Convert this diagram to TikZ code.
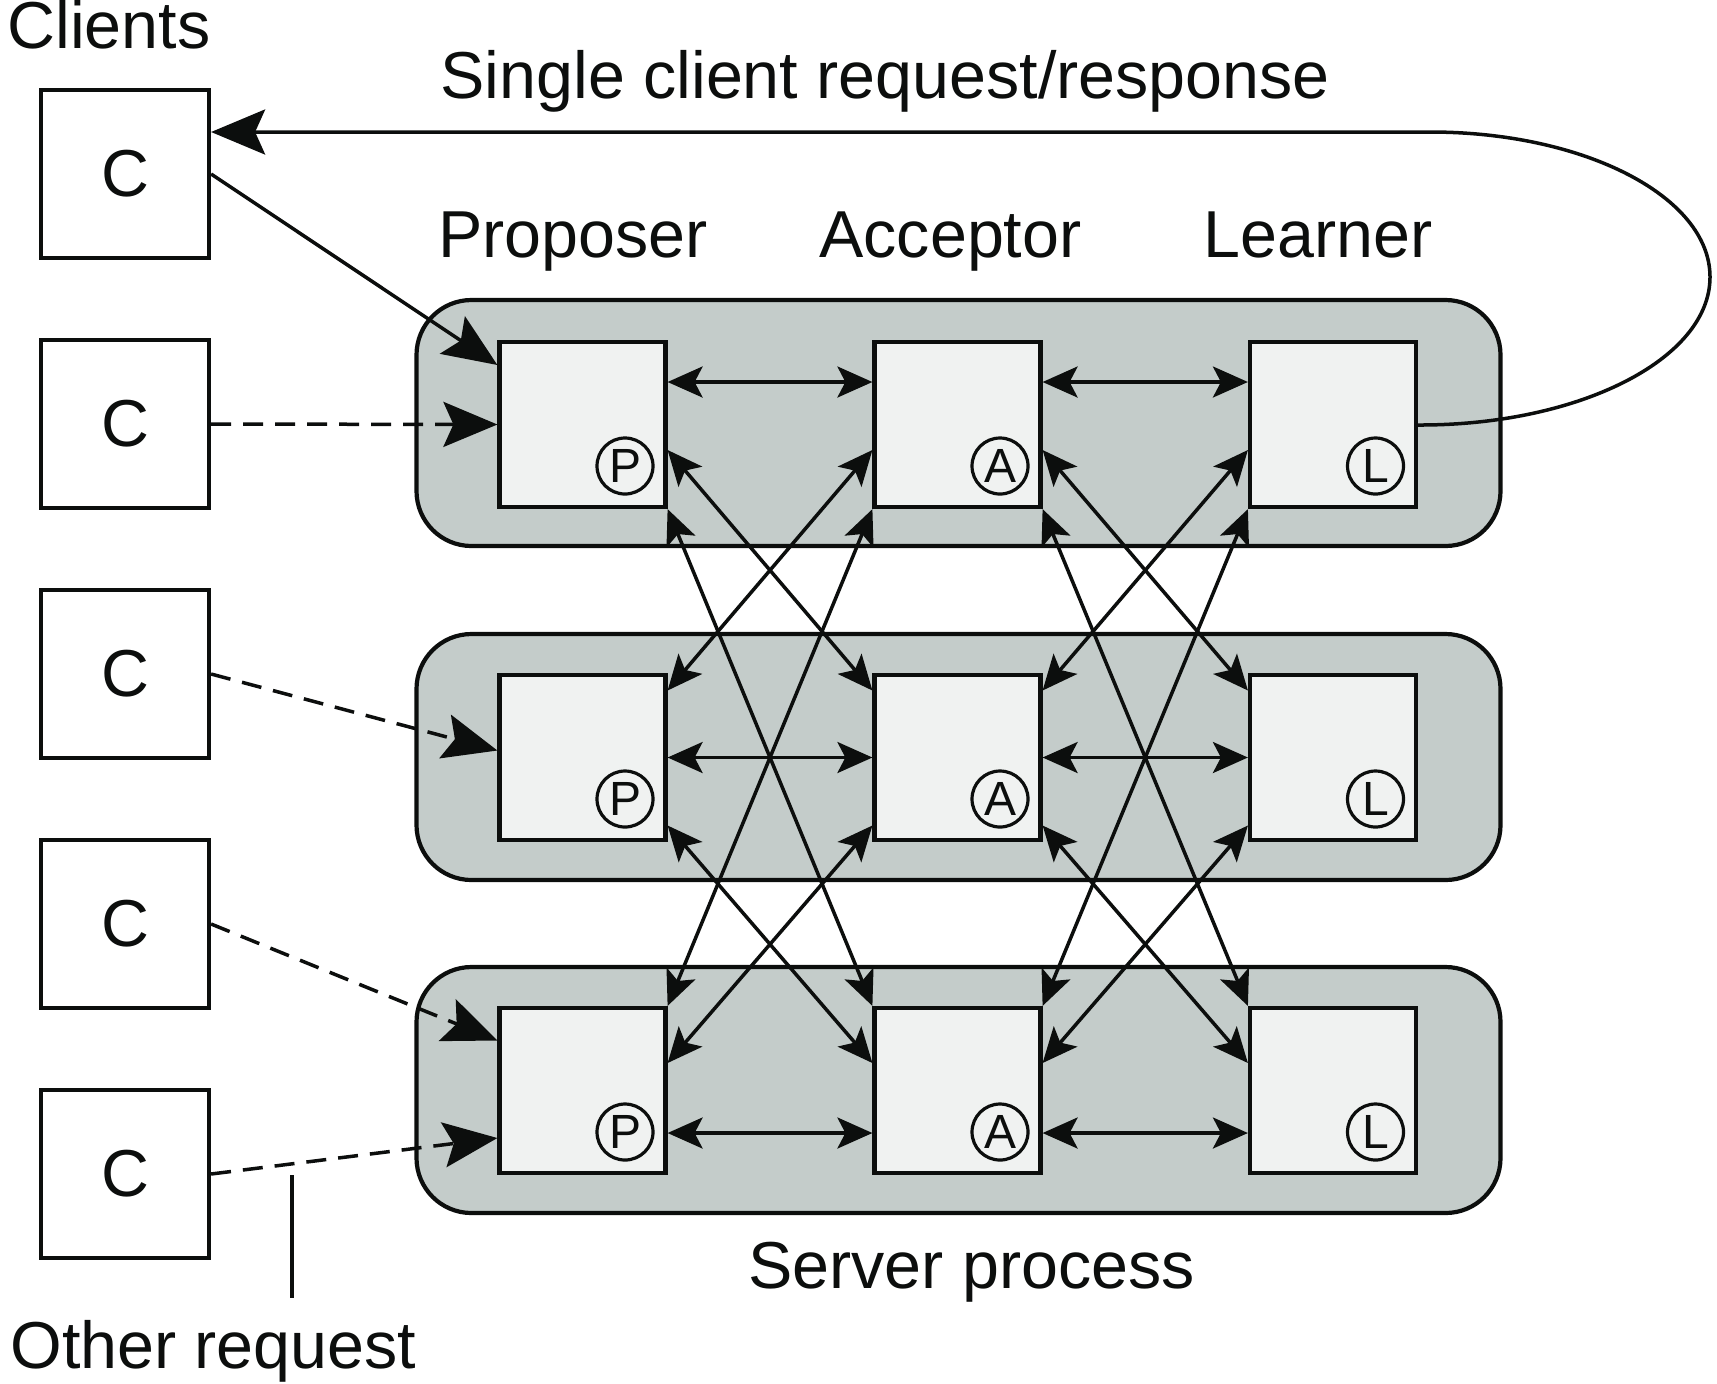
\documentclass[tikz,border=0pt]{standalone}
\usepackage{fontspec}
\setmainfont{Liberation Sans}
\usetikzlibrary{arrows.meta,calc}
\definecolor{srvfill}{RGB}{196,204,202}
\definecolor{boxfill}{RGB}{240,242,241}
\definecolor{ink}{RGB}{12,14,13}

\begin{document}
\begin{tikzpicture}[x=0.5pt,y=-0.5pt,
  bigfont/.style={font=\fontsize{33.2}{40}\selectfont},
  txt/.style={bigfont, anchor=base west, inner sep=0pt, text=ink},
  server/.style={draw=ink, fill=srvfill, line width=2.1pt, rounded corners=27.5pt,
    minimum width=542pt, minimum height=123pt, inner sep=0pt},
  role/.style={draw=ink, fill=boxfill, line width=2.1pt,
    minimum width=83pt, minimum height=82.5pt, inner sep=0pt},
  client/.style={draw=ink, fill=white, line width=2.1pt,
    minimum width=84pt, minimum height=84pt, inner sep=0pt, bigfont, text=ink},
  badge/.style={circle, draw=ink, line width=1.6pt, minimum size=28pt, inner sep=0pt,
    font=\fontsize{24}{24}\selectfont, text=ink},
  link/.style={draw=ink, line width=1.75pt, {Stealth[length=17.5pt,width=15.5pt,inset=4pt]}-{Stealth[length=17.5pt,width=15.5pt,inset=4pt]}},
  req/.style={draw=ink, line width=1.75pt, -{Stealth[length=27pt,width=22.5pt,inset=5pt]}},
  dashedreq/.style={req, dash pattern=on 10pt off 6pt}
]
\useasboundingbox (0,0) rectangle (1717,1383);

% server processes and their three roles
\foreach \r/\y/\s in {1/424.5/423,2/757.5/757,3/1090.5/1090}{
  \node[server] (S\r) at (958.5,\s) {};
  \node[role] (P\r) at (582.5,\y) {};
  \node[role] (A\r) at (957.5,\y) {};
  \node[role] (L\r) at (1333,\y) {};
  \node[badge] (bP\r) at ($(P\r.center)+(42.5,41.5)$) {P};
  \node[badge] (bA\r) at ($(A\r.center)+(42.5,41.5)$) {A};
  \node[badge] (bL\r) at ($(L\r.center)+(42.5,41.5)$) {L};
}

% clients
\foreach \i/\y in {1/174,2/424,3/674,4/924,5/1174}{
  \node[client] (C\i) at (125,\y) {C};
}

% captions
\node[txt] (capClients) at (7,48) {Clients};
\node[txt] (capSingle) at (440,98) {Single client request/response};
\node[txt] (capProp) at (438,257) {Proposer};
\node[txt] (capAcc) at (819,257) {Acceptor};
\node[txt] (capLearn) at (1203,257) {Learner};
\node[txt] (capServer) at (748,1288) {Server process};
\node[txt] (capOther) at (10,1368) {Other request};

% messages within a server process
\foreach \X/\Y in {P/A,A/L}{
  \draw[link] ($(\X1.east)+(0,-42.5)$) -- ($(\Y1.west)+(0,-42.5)$);
  \draw[link] (\X2.east) -- (\Y2.west);
  \draw[link] ($(\X3.east)+(0,42.5)$) -- ($(\Y3.west)+(0,42.5)$);
}

% messages between server processes
\foreach \X/\Y in {P/A,A/L}{
  \draw[link] ($(\X1.east)+(0,25.5)$) -- ($(\Y2.west)+(0,-67)$);
  \draw[link] ($(\Y1.west)+(0,25.5)$) -- ($(\X2.east)+(0,-67)$);
  \draw[link] (\X1.south east) -- (\Y3.north west);
  \draw[link] (\Y1.south west) -- (\X3.north east);
  \draw[link] ($(\X2.east)+(0,68)$) -- ($(\Y3.west)+(0,-27.5)$);
  \draw[link] ($(\Y2.west)+(0,68)$) -- ($(\X3.east)+(0,-27.5)$);
}

% client requests
\draw[req] (C1.east) -- ($(P1.west)+(0,-59.5)$);
\draw[dashedreq] (C2.east) -- (P1.west);
\draw[dashedreq] (C3.east) -- ($(P2.west)+(0,-7)$);
\draw[dashedreq] (C4.east) -- ($(P3.west)+(0,-50)$);
\draw[dashedreq] (C5.east) -- ($(P3.west)+(0,47.5)$);

% response from the learner back to the client
\coordinate (turn) at (1710,277);
\coordinate (topline) at (1430,132);
\draw[req] ($(L1.east)+(0,0.5)$) .. controls (1579,425.5) and (1710,359) .. (turn)
  .. controls (1710,197) and (1585,132) .. (topline) -- ($(C1.east)+(0,-42)$);

% pointer to the other request
\coordinate (tagtop) at (292,1175);
\coordinate (tagbot) at (292,1298);
\draw[ink, line width=1.75pt] (tagtop) -- (tagbot);
\end{tikzpicture}
\end{document}
